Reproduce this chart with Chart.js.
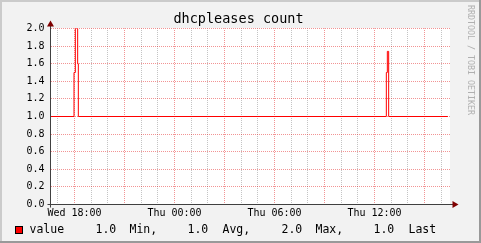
<!DOCTYPE html>
<html>
<head>
    <title>dhcpleases count</title>
    <script src="https://cdn.jsdelivr.net/npm/chart.js"></script>
    <style>
        body { margin: 0; background: #f2f2f2; }
        canvas { display: block; }
    </style>
</head>
<body>
    <canvas id="rrdChart" width="481" height="243"></canvas>

    <script>
        // hours since Wed 00:00 and the sampled value
        const hours  = [16.56, 17.97, 18.05, 18.19, 18.23, 36.71, 36.77, 36.85, 40.40];
        const values = [1.0,   1.5,   2.0,   1.6,   1.0,   1.5,   1.74,  1.0,   1.0];

        const xStart = 16.56;
        const xEnd = 40.56;
        const tickHours  = [18, 24, 30, 36];
        const tickLabels = ['Wed 18:00', 'Thu 00:00', 'Thu 06:00', 'Thu 12:00'];

        const titleText = 'dhcpleases count';
        const legendName = 'value';
        const legendValues = ['1.0', '1.0', '2.0', '1.0'];
        const legendWords  = ['Min,', 'Avg,', 'Max,', 'Last'];

        const MONO = '"DejaVu Sans Mono", monospace';
        const gridGrey = '#c4c4c4';
        const gridRed = 'rgba(225,0,0,0.42)';

        // fond, bordures, zone blanche
        const backgroundPlugin = {
            id: 'rrdBack',
            beforeDraw(chart) {
                const c = chart.ctx;
                const a = chart.chartArea;
                const W = chart.width, H = chart.height;
                c.save();
                c.fillStyle = '#f2f2f2';
                c.fillRect(0, 0, W, H);
                c.fillStyle = '#cbcbcb';
                c.fillRect(0, 0, W, 2);
                c.fillRect(0, 0, 2, H);
                c.fillStyle = '#999999';
                c.fillRect(0, H - 2, W, 2);
                c.fillRect(W - 2, 0, 2, H);
                c.fillStyle = '#ffffff';
                c.fillRect(a.left - 0.5, a.top - 0.5, a.right - a.left, a.bottom - a.top + 1);
                c.restore();
            }
        };

        // axes, flèches, titre, légende
        const overlayPlugin = {
            id: 'rrdOverlay',
            afterDatasetsDraw(chart) {
                const c = chart.ctx;
                const a = chart.chartArea;
                c.save();
                c.strokeStyle = '#404040';
                c.lineWidth = 1;
                c.beginPath();
                c.moveTo(a.left, a.top - 5);
                c.lineTo(a.left, a.bottom + 3);
                c.moveTo(a.left - 3, a.bottom);
                c.lineTo(a.right + 4, a.bottom);
                c.stroke();

                c.fillStyle = '#7f0000';
                c.beginPath();
                c.moveTo(a.left, a.top - 8);
                c.lineTo(a.left - 3.5, a.top - 2);
                c.lineTo(a.left + 3.5, a.top - 2);
                c.closePath();
                c.fill();
                c.beginPath();
                c.moveTo(a.right + 8, a.bottom);
                c.lineTo(a.right + 2, a.bottom - 3.5);
                c.lineTo(a.right + 2, a.bottom + 3.5);
                c.closePath();
                c.fill();

                c.fillStyle = '#000000';
                c.font = '13.5px ' + MONO;
                c.textAlign = 'center';
                c.textBaseline = 'alphabetic';
                c.fillText(titleText, 238.5, 23);

                c.save();
                c.translate(468, 5);
                c.rotate(Math.PI / 2);
                c.fillStyle = '#b0b0b0';
                c.font = '8.3px ' + MONO;
                c.textAlign = 'left';
                c.fillText('RRDTOOL / TOBI OETIKER', 0, 0);
                c.restore();

                c.fillStyle = '#ff0000';
                c.fillRect(15, 226, 8, 8);
                c.strokeStyle = '#000000';
                c.strokeRect(15.5, 226.5, 7, 7);

                c.fillStyle = '#000000';
                c.font = '11.5px ' + MONO;
                c.textAlign = 'left';
                c.fillText(legendName, 29.5, 233);
                const valueX = [95.5, 187.5, 281.5, 373.5];
                const wordX = [129.5, 222.5, 315.5, 408.5];
                legendValues.forEach((v, i) => c.fillText(v, valueX[i], 233));
                legendWords.forEach((w, i) => c.fillText(w, wordX[i], 233));
                c.restore();
            }
        };

        const points = hours.map((h, i) => ({ x: h, y: values[i] }));

        const chart = new Chart(document.getElementById('rrdChart').getContext('2d'), {
            type: 'line',
            data: {
                datasets: [{
                    label: legendName,
                    data: points,
                    borderColor: '#ff0000',
                    borderWidth: 1,
                    stepped: 'before',
                    pointRadius: 0,
                    fill: false
                }]
            },
            options: {
                responsive: false,
                animation: false,
                layout: { padding: { left: 0, top: 28.5, right: 30.5, bottom: 24 } },
                plugins: {
                    legend: { display: false },
                    title: { display: false },
                    tooltip: { enabled: false }
                },
                scales: {
                    x: {
                        type: 'linear',
                        min: xStart,
                        max: xEnd,
                        afterFit(scale) { scale.height = 14.5; },
                        afterBuildTicks(scale) {
                            const t = [];
                            for (let h = 17; h <= 40; h++) t.push({ value: h });
                            scale.ticks = t;
                        },
                        grid: {
                            drawTicks: false,
                            color: (ctx) => (Math.round(ctx.tick.value) % 3 === 0 ? gridRed : gridGrey)
                        },
                        border: { display: false, dash: [1, 1], dashOffset: 0.5 },
                        ticks: {
                            autoSkip: false,
                            maxRotation: 0,
                            padding: 3,
                            color: '#000000',
                            font: { family: MONO, size: 10 },
                            callback: (v) => {
                                const i = tickHours.indexOf(Math.round(v));
                                return i >= 0 ? tickLabels[i] : '';
                            }
                        }
                    },
                    y: {
                        min: 0,
                        max: 2,
                        afterFit(scale) { scale.width = 50.5; },
                        afterBuildTicks(scale) {
                            const t = [];
                            for (let k = 0; k <= 20; k++) t.push({ value: k / 10 });
                            scale.ticks = t;
                        },
                        grid: {
                            drawTicks: false,
                            color: (ctx) => (Math.round(ctx.tick.value * 10) % 2 === 0 ? gridRed : gridGrey)
                        },
                        border: { display: false, dash: [1, 1] },
                        ticks: {
                            padding: 6,
                            color: '#000000',
                            font: { family: MONO, size: 10 },
                            callback: (v) => (Math.round(v * 10) % 2 === 0 ? v.toFixed(1) : '')
                        }
                    }
                }
            },
            plugins: [backgroundPlugin, overlayPlugin]
        });
    </script>
</body>
</html>
